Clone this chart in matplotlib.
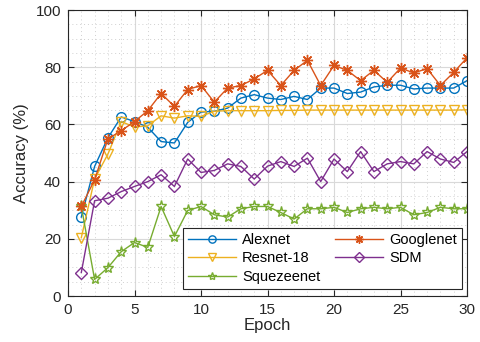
import numpy as np
import matplotlib
matplotlib.use('Agg')
import matplotlib.pyplot as plt
from matplotlib.ticker import MultipleLocator

plt.rcParams['font.family'] = ['Liberation Sans', 'DejaVu Sans']

epochs = np.arange(1, 31)
alexnet = [27.6, 45.3, 55.3, 62.6, 61.0, 59.0, 54.0, 53.5, 60.7, 64.3,
           64.6, 65.7, 69.2, 70.4, 69.2, 68.7, 69.8, 68.7, 72.7, 72.7,
           70.8, 71.3, 73.1, 73.7, 73.7, 72.4, 72.7, 72.7, 72.7, 75.3]
googlenet = [31.3, 40.6, 54.9, 57.8, 61.0, 64.8, 70.8, 66.3, 72.2, 73.6,
             67.8, 72.7, 73.6, 75.9, 78.9, 73.6, 78.9, 82.4, 73.6, 80.6,
             78.9, 75.3, 78.9, 74.7, 79.7, 78.0, 79.5, 73.6, 78.2, 83.3]
resnet18 = [20.4, 40.9, 49.6, 61.0, 59.1, 59.5, 63.0, 62.2, 63.0, 62.8,
            64.6, 64.8, 64.8, 64.8, 64.8, 64.9, 64.9, 65.0, 65.0, 65.0,
            65.0, 65.0, 65.0, 65.0, 65.0, 65.0, 65.0, 65.0, 65.0, 65.1]
sdm = [8.2, 33.3, 34.2, 36.5, 38.3, 40.0, 42.4, 38.3, 47.9, 43.2,
       43.9, 46.2, 45.3, 40.9, 45.4, 47.0, 45.3, 48.2, 40.0, 47.9,
       43.5, 50.5, 43.5, 46.2, 47.0, 46.2, 50.5, 47.9, 46.7, 50.5]
squeezenet = [31.3, 5.8, 9.9, 15.5, 18.7, 17.0, 31.3, 20.8, 29.9, 31.3,
              28.4, 27.6, 30.5, 31.3, 31.3, 29.2, 26.9, 30.5, 30.5, 31.0,
              29.2, 30.5, 31.0, 30.5, 31.0, 28.4, 29.2, 31.0, 30.5, 30.5]

fig = plt.figure(figsize=(4.8, 3.42), dpi=100)
ax = fig.add_axes([68/480, 1-296/342, 399/480, 286/342])

kw = dict(lw=1.0, markersize=7, markerfacecolor='none', markeredgewidth=1.0)
ax.plot(epochs, alexnet, '-o', color='#0072BD', label='Alexnet', **kw)
ax.plot(epochs, resnet18, '-v', color='#EDB120', label='Resnet-18', **kw)
ax.plot(epochs, squeezenet, '-*', color='#77AC30', label='Squezeenet',
        lw=1.0, markersize=8, markerfacecolor='none', markeredgewidth=1.0)
ax.plot(epochs, googlenet, '-', marker=(8, 2, 0), color='#D95319', label='Googlenet',
        lw=1.0, markersize=8, markeredgewidth=1.0)
ax.plot(epochs, sdm, '-D', color='#7E2F8E', label='SDM',
        lw=1.0, markersize=6.5, markerfacecolor='none', markeredgewidth=1.0)

ax.set_xlim(0, 30)
ax.set_ylim(0, 100)
ax.xaxis.set_major_locator(MultipleLocator(5))
ax.xaxis.set_minor_locator(MultipleLocator(1))
ax.yaxis.set_major_locator(MultipleLocator(20))
ax.yaxis.set_minor_locator(MultipleLocator(5))
ax.grid(which='major', color='#d9d9d9', lw=0.8)
ax.grid(which='minor', color='#d0d0d0', lw=0.7, ls=(0, (1, 3)))
ax.set_axisbelow(True)
ax.tick_params(which='both', direction='in', top=True, right=True,
               labelsize=11, colors='#262626')
ax.tick_params(which='minor', length=0)
ax.tick_params(which='major', length=4, pad=5)
for s in ax.spines.values():
    s.set_color('#262626')
    s.set_linewidth(0.8)

ax.set_xlabel('Epoch', fontsize=12, color='#262626', labelpad=1)
ax.set_ylabel('Accuracy (%)', fontsize=12, color='#262626', labelpad=5)

leg = ax.legend(ncol=2, loc='lower right', bbox_to_anchor=(0.987, 0.024),
                borderaxespad=0, fontsize=10.5, fancybox=False,
                edgecolor='#262626', framealpha=1, handlelength=3.3,
                columnspacing=1.0, borderpad=0.35, labelspacing=0.32,
                handletextpad=0.4, markerscale=0.75)
leg.get_frame().set_linewidth(0.8)

fig.savefig('out.png', dpi=100)
